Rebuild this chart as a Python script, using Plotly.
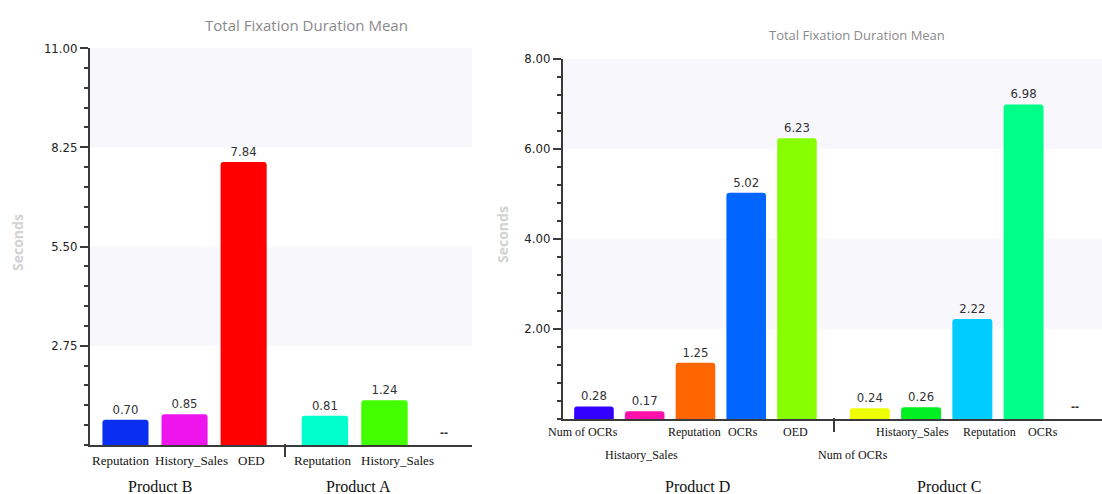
import plotly.graph_objects as go

W, H = 1102, 494

# ---------------- data ----------------
# Left chart
b_labels = ["Reputation", "History_Sales", "OED"]
b_values = [0.70, 0.85, 7.84]
b_colors = ["#0a2ff2", "#ee14ee", "#ff0000"]

a_labels = ["Reputation", "History_Sales", ""]
a_values = [0.81, 1.24, None]          # third slot is empty ("--")
a_colors = ["#00ffcc", "#44ff00", "#ffffff"]

left_ticks = [2.75, 5.50, 8.25, 11.00]
left_tick_text = ["2.75", "5.50", "8.25", "11.00"]
left_minor = 0.55

# Right chart
d_labels = ["Num of OCRs", "Histaory_Sales", "Reputation", "OCRs", "OED"]
d_values = [0.28, 0.17, 1.25, 5.02, 6.23]
d_colors = ["#3300ff", "#ff10aa", "#ff6600", "#0066ff", "#88ff00"]
d_rows = [0, 1, 0, 0, 0]

c_labels = ["Num of OCRs", "Histaory_Sales", "Reputation", "OCRs", ""]
c_values = [0.24, 0.26, 2.22, 6.98, None]
c_colors = ["#eeff00", "#00ee22", "#00ccff", "#00ff88", "#ffffff"]
c_rows = [1, 0, 0, 0, 0]

right_ticks = [2.0, 4.0, 6.0, 8.0]
right_tick_text = ["2.00", "4.00", "6.00", "8.00"]
right_minor = 0.4

title_text = "Total Fixation Duration Mean"
y_title = "Seconds"
groups = ["Product B", "Product A", "Product D", "Product C"]

# ---------------- layout helpers ----------------
def px(x):
    return x / W

def py(y):
    return 1 - y / H

def keys(labels):
    return [f"{i}:{lab}" for i, lab in enumerate(labels)]

AX = "#3a3a3a"
NARROW = "Liberation Sans Narrow, DejaVu Sans Condensed, Liberation Sans"
VAL_FONT = dict(family=NARROW, size=13, color="#333333")
SERIF = "Liberation Serif, Times New Roman, serif"
GRP_FONT = dict(family=SERIF, size=16, color="#111111")

fig = go.Figure()

panels = [
    ("x", "y", b_labels, b_values, b_colors),
    ("x2", "y", a_labels, a_values, a_colors),
    ("x3", "y2", d_labels, d_values, d_colors),
    ("x4", "y2", c_labels, c_values, c_colors),
]
for xa, ya, labs, vals, cols in panels:
    fig.add_trace(go.Bar(
        x=keys(labs), y=vals, xaxis=xa, yaxis=ya,
        marker=dict(color=cols, cornerradius=3, line=dict(width=0)),
        width=0.78,
        text=[None if v is None else f"{v:.2f}" for v in vals],
        textposition="outside", textfont=VAL_FONT, cliponaxis=False,
        showlegend=False, hoverinfo="skip",
    ))

def xaxis(dom, rng, labs, anchor):
    return dict(domain=dom, range=rng, type="category", categoryorder="array",
                categoryarray=keys(labs), showline=True, linecolor=AX, linewidth=2,
                ticks="", showticklabels=False, showgrid=False, zeroline=False,
                anchor=anchor, fixedrange=True, automargin=False)

def yaxis(dom, rng, tv, tt, minor, anchor):
    return dict(domain=dom, range=rng, tickmode="array", tickvals=tv, ticktext=tt,
                showline=True, linecolor=AX, linewidth=2, ticks="outside", ticklen=8,
                tickwidth=1.5, tickcolor=AX, showgrid=False, zeroline=False,
                tickfont=dict(family=NARROW, size=13, color="#222222"),
                minor=dict(tick0=0, dtick=minor, ticks="outside", ticklen=4,
                           tickwidth=1.5, tickcolor=AX, showgrid=False),
                anchor=anchor, fixedrange=True, automargin=False)

fig.update_layout(
    width=W, height=H, margin=dict(l=0, r=0, t=0, b=0, autoexpand=False),
    paper_bgcolor="white", plot_bgcolor="rgba(0,0,0,0)",
    xaxis=xaxis([px(90), px(285)], [-0.60, 2.70], b_labels, "y"),
    xaxis2=xaxis([px(285), px(472)], [-0.67, 2.47], a_labels, "y"),
    xaxis3=xaxis([px(563), px(834)], [-0.61, 4.73], d_labels, "y2"),
    xaxis4=xaxis([px(834), 1.0], [-0.70, 4.53], c_labels, "y2"),
    yaxis=yaxis([py(445), py(48)], [0, 11], left_ticks, left_tick_text, left_minor, "x"),
    yaxis2=yaxis([py(419), py(58.5)], [0, 8], right_ticks, right_tick_text, right_minor, "x3"),
)

shapes = []
# alternating background bands between major ticks
for (x0, x1, yref, tv) in [(px(90), px(472), "y", left_ticks), (px(563), 1.0, "y2", right_ticks)]:
    edges = [0] + tv
    for k in range(1, len(edges) - 1, 2):
        shapes.append(dict(type="rect", xref="paper", yref=yref, x0=x0, x1=x1,
                           y0=edges[k], y1=edges[k + 1], fillcolor="#f7f7fc",
                           line=dict(width=0), layer="below"))
# group separators
shapes.append(dict(type="line", xref="x domain", yref="paper", x0=1, x1=1,
                   y0=py(444), y1=py(457), line=dict(color=AX, width=2)))
shapes.append(dict(type="line", xref="x3 domain", yref="paper", x0=1, x1=1,
                   y0=py(418), y1=py(432), line=dict(color=AX, width=2)))
fig.update_layout(shapes=shapes)

ann = []
def add(text, x, y, xref="paper", yref="paper", font=None, **kw):
    d = dict(text=text, x=x, y=y, xref=xref, yref=yref, showarrow=False,
             xanchor="center", yanchor="middle", font=font)
    d.update(kw)
    ann.append(d)

# titles
add(title_text, px(306), py(25), font=dict(family="Open Sans", size=15, color="#8a8a8a"))
add(title_text, px(857), py(35), font=dict(family="Open Sans", size=13, color="#8a8a8a"))
# y titles
for xx, yy in [(18, 243), (502, 235)]:
    add(y_title, px(xx), py(yy), textangle=-90,
        font=dict(family="Open Sans", size=14, color="#d2d2d2", weight="bold"))

# category labels (with small horizontal nudges as in the original layout)
label_specs = [
    ("x", b_labels, [0, 0, 0], [460], [-4, 7, 8], 13),
    ("x2", a_labels, [0, 0, 0], [460], [-2, 13, 0], 13),
    ("x3", d_labels, d_rows, [432, 455], [-11, -3, -1, -3, -1], 12),
    ("x4", c_labels, c_rows, [432, 455], [-17, -9, 17, 19, 0], 12),
]
for xa, labs, rows, row_y, shifts, fs in label_specs:
    yref_val = "y" if xa in ("x", "x2") else "y2"
    for k, lab, r, sh in zip(keys(labs), labs, rows, shifts):
        if lab:
            add(lab, k, py(row_y[r]), xref=xa, xshift=sh,
                font=dict(family=SERIF, size=fs, color="#111111"))
        else:
            add("--", k, 0, xref=xa, yref=yref_val, yanchor="bottom", yshift=3,
                font=dict(family="Liberation Sans", size=12, color="#333333", weight="bold"))

# group labels
for g, xx in zip(groups, [160, 358, 697, 949]):
    add(g, px(xx), py(486), font=GRP_FONT)

fig.update_layout(annotations=ann)
fig.write_html("out.html", config={"displayModeBar": False},
               post_script="document.body.style.margin='0px';")
